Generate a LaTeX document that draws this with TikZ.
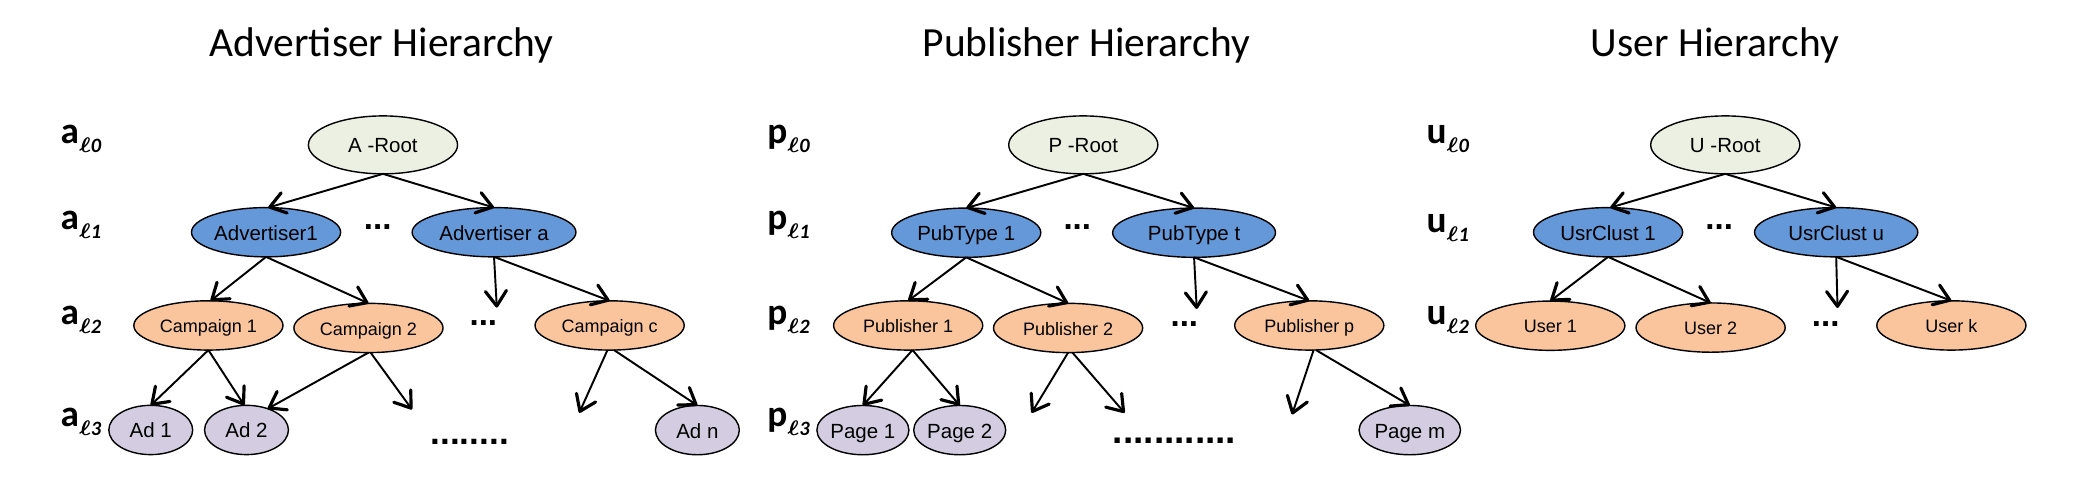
\documentclass[tikz,border=0pt]{standalone}
\usepackage{fontspec}
\usepackage{amsmath}
\setmainfont{Carlito}
\newfontfamily\arialf{Liberation Sans}
\usetikzlibrary{shapes.geometric,arrows.meta}
\definecolor{rootc}{RGB}{236,240,226}
\definecolor{bluec}{RGB}{100,152,217}
\definecolor{orangec}{RGB}{250,197,156}
\definecolor{purplec}{RGB}{212,205,226}
\newcommand{\lvlab}[2]{\fontsize{10.6}{11}\selectfont\bfseries #1\raisebox{-2.5pt}{\fontsize{5.8}{6}\selectfont\bfseries\itshape $\boldsymbol{\ell}$#2}}
\begin{document}
\begin{tikzpicture}[x=0.13316mm,y=-0.13316mm,
  every node/.style={inner sep=0pt,outer sep=0pt},
  nd/.style={ellipse,draw=black,line width=0.4pt,
    font=\arialf\fontsize{5.83}{7}\selectfont,text height=5.25pt,text depth=0.7pt,
    minimum height=37*0.13316mm},
  rootn/.style={nd,fill=rootc,minimum width=112*0.13316mm,minimum height=43.5*0.13316mm},
  lonen/.style={nd,fill=bluec,minimum width=112*0.13316mm},
  ltwon/.style={nd,fill=orangec,minimum width=112*0.13316mm,
    font=\arialf\fontsize{5.12}{6}\selectfont,text height=4.6pt,text depth=0.6pt},
  lthreen/.style={nd,fill=purplec,minimum width=63*0.13316mm},
  titlen/.style={anchor=base,font=\fontsize{11.8}{13}\selectfont},
  labn/.style={anchor=base west},
  dotn/.style={anchor=base,font=\arialf\bfseries\fontsize{9.4}{10}\selectfont},
  arr/.style={line width=0.55pt,-{Straight Barb[length=1.5mm,width=2.1mm,line width=0.9pt,round]}}
]
\useasboundingbox (0,0) rectangle (1568,357.5);

% titles
\node[titlen] (t1) at (286.5,42.6) {Advertiser Hierarchy};
\node[titlen] (t2) at (815.8,42.6) {Publisher Hierarchy};
\node[titlen] (t3) at (1287.8,42.6) {User Hierarchy};

% level labels
\node[labn] (a0) at (45.6,107.6) {\lvlab{a}{0}};
\node[labn] (a1) at (45.6,172.7) {\lvlab{a}{1}};
\node[labn] (a2) at (45.6,244) {\lvlab{a}{2}};
\node[labn] (a3) at (45.6,320.4) {\lvlab{a}{3}};
\node[labn] (p0) at (576.3,107.6) {\lvlab{p}{0}};
\node[labn] (p1) at (576.3,172.7) {\lvlab{p}{1}};
\node[labn] (p2) at (576.3,244) {\lvlab{p}{2}};
\node[labn] (p3) at (576.3,320.4) {\lvlab{p}{3}};
\node[labn] (u0) at (1071.4,107.6) {\lvlab{u}{0}};
\node[labn] (u1) at (1071.4,174.5) {\lvlab{u}{1}};
\node[labn] (u2) at (1071.4,244) {\lvlab{u}{2}};

% advertiser tree
\node[rootn] (AR) at (287.6,108.8) {A -Root};
\node[lonen] (A1) at (199.8,174.4) {Advertiser1};
\node[lonen,minimum width=123*0.13316mm] (Aa) at (371,174.4) {Advertiser a};
\node[ltwon] (C1) at (156.5,244.4) {Campaign 1};
\node[ltwon] (C2) at (276.7,246.3) {Campaign 2};
\node[ltwon] (Cc) at (457.8,244.4) {Campaign c};
\node[lthreen] (Ad1) at (113.2,322.9) {Ad 1};
\node[lthreen] (Ad2) at (185.1,322.9) {Ad 2};
\node[lthreen] (Adn) at (523.7,323) {Ad n};
\node[dotn] (ad1) at (283.6,172.2) {...};
\node[dotn] (ad2) at (363,244.5) {...};
\node[dotn,font=\arialf\bfseries\fontsize{10}{11}\selectfont] (ad3) at (352.7,333.5) {........};
\coordinate (af1) at (373.1,231);
\coordinate (af2) at (309.4,307.5);
\coordinate (af3) at (435,310);

\draw[arr] (AR.south) -- (A1.85);
\draw[arr] (AR.south) -- (Aa.north);
\draw[arr] (A1.south) -- (C1.85);
\draw[arr] (A1.south) -- (C2.north);
\draw[arr] (Aa.south) -- (af1);
\draw[arr] (Aa.south) -- (Cc.north);
\draw[arr] (C1.south) -- (Ad1.north);
\draw[arr] (C1.south) -- (Ad2.95);
\draw[arr] (C2.south) -- (Ad2.45);
\draw[arr] (C2.-85) -- (af2);
\draw[arr] (Cc.-95) -- (af3);
\draw[arr] (Cc.-80) -- (Adn.north);

% publisher tree
\node[rootn] (PR) at (813.5,108.8) {P -Root};
\node[lonen] (P1) at (725.6,174.75) {PubType 1};
\node[lonen,minimum width=122.3*0.13316mm] (Pt) at (896.7,174.75) {PubType t};
\node[ltwon] (Pu1) at (682,244.4) {Publisher 1};
\node[ltwon] (Pu2) at (802.1,246.3) {Publisher 2};
\node[ltwon] (Pup) at (983.2,244.4) {Publisher p};
\node[lthreen,minimum width=69.1*0.13316mm] (Pg1) at (648,323) {Page 1};
\node[lthreen,minimum width=69.1*0.13316mm] (Pg2) at (720.7,323) {Page 2};
\node[lthreen,minimum width=76.2*0.13316mm] (Pgm) at (1058.7,323) {Page m};
\node[dotn] (pd1) at (809,172.2) {...};
\node[dotn] (pd2) at (889.4,245.5) {...};
\node[dotn,font=\arialf\bfseries\fontsize{10.5}{11}\selectfont] (pd3) at (882,333) {............};
\coordinate (pf1) at (898.7,232);
\coordinate (pf2) at (774.7,310);
\coordinate (pf3) at (844.5,310);
\coordinate (pf4) at (970.3,311.25);

\draw[arr] (PR.south) -- (P1.north);
\draw[arr] (PR.south) -- (Pt.north);
\draw[arr] (P1.south) -- (Pu1.north);
\draw[arr] (P1.south) -- (Pu2.north);
\draw[arr] (Pt.south) -- (pf1);
\draw[arr] (Pt.south) -- (Pup.north);
\draw[arr] (Pu1.-80) -- (Pg1.north);
\draw[arr] (Pu1.-80) -- (Pg2.north);
\draw[arr] (Pu2.south) -- (pf2);
\draw[arr] (Pu2.-80) -- (pf3);
\draw[arr] (Pup.-80) -- (pf4);
\draw[arr] (Pup.-75) -- (Pgm.north);

% user tree
\node[rootn] (UR) at (1295.6,108.8) {U -Root};
\node[lonen] (U1) at (1207.6,174.4) {UsrClust 1};
\node[lonen,minimum width=122.6*0.13316mm] (Uu) at (1378.9,174.4) {UsrClust u};
\node[ltwon] (Us1) at (1164.2,244.6) {User 1};
\node[ltwon] (Us2) at (1284.6,246) {User 2};
\node[ltwon] (Usk) at (1465.4,244.4) {User k};
\node[dotn] (ud1) at (1291,172.2) {...};
\node[dotn] (ud2) at (1371,245.5) {...};
\coordinate (uf1) at (1379.9,231.25);

\draw[arr] (UR.south) -- (U1.85);
\draw[arr] (UR.south) -- (Uu.north);
\draw[arr] (U1.south) -- (Us1.north);
\draw[arr] (U1.south) -- (Us2.north);
\draw[arr] (Uu.south) -- (uf1);
\draw[arr] (Uu.south) -- (Usk.north);
\end{tikzpicture}
\end{document}
